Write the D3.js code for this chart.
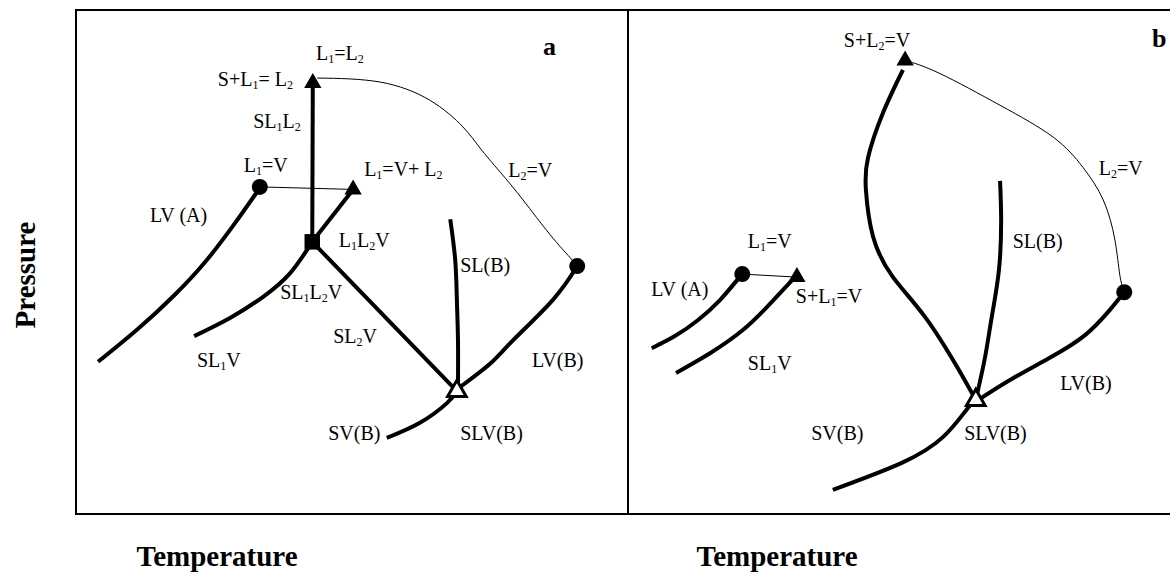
<!DOCTYPE html>
<html>
<head>
<meta charset="utf-8">
<script src="https://cdn.jsdelivr.net/npm/d3@7"></script>
<style>
  body { margin: 0; background: #fff; }
  text { font-family: "Liberation Serif", "Times New Roman", serif; fill: #000; }
</style>
</head>
<body>
<svg id="chart" width="1170" height="575"></svg>
<script>
// phase diagram, two panels, temperature / pressure in arbitrary units (0-100)

// ---- panel a ----
const aLvA = [[4.0,30.2],[11.2,36.7],[17.9,43.5],[23.7,50.4],[28.8,57.7],[32.8,63.9]];
const aSl1v = [[21.4,35.3],[27.9,38.9],[33.9,43.1],[38.8,47.8],[42.8,54.0]];
const aSl1l2 = [[42.8,54.0],[42.9,85.5]];
const aL1l2v = [[42.8,54.0],[50.2,64.4]];
const aSl2v = [[42.8,54.0],[69.0,24.4]];
const aSlB = [[67.8,58.5],[68.7,50.4],[69.0,42.5],[69.2,34.5],[69.2,25.6]];
const aLvB = [[69.6,25.2],[75.0,29.8],[79.2,34.5],[86.4,42.5],[90.8,49.2]];
const aSvB = [[56.3,15.1],[62.3,18.1],[67.2,22.0],[69.0,24.4]];
const aL2v = [[43.7,86.5],[55.1,85.7],[64.1,82.1],[70.1,76.8],[73.2,72.6],[76.8,67.9],[81.0,62.3],[85.9,55.4],[89.9,50.4],[90.8,49.2]];
const aTie = [[33.3,64.9],[50.2,64.4]];

const aDots = [[33.3,64.9],[90.8,49.2]];
const aTriangles = [[42.9,85.5],[50.2,64.4]];
const aSquares = [[42.8,54.0]];
const aOpenTriangles = [[69.0,24.4]];

const aLabels = [
  ['L_1=L_2', 43.5, 90.1],
  ['S+L_1= L_2', 25.7, 84.9],
  ['SL_1L_2', 32.1, 76.6],
  ['L_1=V', 30.4, 67.9],
  ['L_1=V+ L_2', 52.2, 67.1],
  ['L_2=V', 78.3, 66.9],
  ['LV (A)', 13.4, 57.9],
  ['L_1L_2V', 47.6, 53.0],
  ['SL(B)', 69.6, 48.0],
  ['SL_1L_2V', 37.0, 42.7],
  ['SL_2V', 46.6, 33.9],
  ['SL_1V', 21.9, 29.2],
  ['LV(B)', 82.6, 29.2],
  ['SV(B)', 45.7, 14.7],
  ['SLV(B)', 69.6, 14.7]
];

// ---- panel b ----
const bLvA = [[4.3,32.9],[8.5,35.3],[12.7,38.5],[16.7,42.5],[20.5,47.4]];
const bSl1v = [[8.7,28.0],[15.0,32.0],[20.8,36.5],[25.2,41.1],[29.9,46.6]];
const bSl2 = [[49.8,88.1],[46.2,79.6],[43.5,70.8],[43.1,64.3],[44.4,55.0],[48.0,47.0],[53.8,39.1],[59.6,29.2],[63.0,22.6]];
const bSlB = [[67.4,66.1],[67.6,58.3],[67.2,48.4],[65.9,39.1],[64.7,31.2],[63.2,23.6]];
const bLvB = [[63.4,22.6],[69.2,26.6],[76.4,31.0],[82.8,35.5],[87.3,40.5],[89.9,44.0]];
const bSvB = [[37.1,4.8],[49.5,10.1],[57.1,15.3],[61.4,20.8],[63.0,22.6]];
const bL2v = [[50.2,90.0],[56.5,87.4],[67.4,81.1],[77.0,74.8],[82.4,68.8],[86.1,62.3],[88.2,54.4],[89.1,47.4],[89.9,44.0]];
const bTie = [[20.7,47.6],[30.6,47.0]];

const bDots = [[20.7,47.6],[89.9,44.0]];
const bTriangles = [[50.2,90.0],[30.6,47.0]];
const bOpenTriangles = [[63.0,22.6]];

const bLabels = [
  ['S+L_2=V', 39.1, 92.7],
  ['L_2=V', 85.3, 67.3],
  ['SL(B)', 69.7, 52.8],
  ['L_1=V', 21.7, 52.8],
  ['LV (A)', 4.2, 43.3],
  ['S+L_1=V', 30.4, 41.9],
  ['SL_1V', 21.7, 28.6],
  ['LV(B)', 78.3, 24.6],
  ['SV(B)', 33.2, 14.7],
  ['SLV(B)', 60.9, 14.7]
];

const svg = d3.select('#chart');
const W = 1170;
const frameTop = 10, frameBottom = 514, frameLeft = 76, frameMid = 628;

const y = d3.scaleLinear().domain([0, 100]).range([frameBottom, frameTop]);
const xA = d3.scaleLinear().domain([0, 100]).range([frameLeft, frameMid]);
const xB = d3.scaleLinear().domain([0, 100]).range([frameMid, frameMid + (frameMid - frameLeft)]);

// frame
const frame = svg.append('g').attr('stroke', '#000').attr('stroke-width', 2);
frame.append('line').attr('x1', frameLeft).attr('x2', frameLeft).attr('y1', frameTop - 1).attr('y2', frameBottom + 1);
frame.append('line').attr('x1', frameMid).attr('x2', frameMid).attr('y1', frameTop).attr('y2', frameBottom);
frame.append('line').attr('x1', frameLeft).attr('x2', W).attr('y1', frameTop).attr('y2', frameTop);
frame.append('line').attr('x1', frameLeft).attr('x2', W).attr('y1', frameBottom).attr('y2', frameBottom);

function drawLabel(g, x, d) {
  const t = g.append('text')
    .attr('x', x(d[1]))
    .attr('y', y(d[2]))
    .attr('font-size', '20px');
  const parts = d[0].split(/(_\d)/).filter(s => s.length);
  let shifted = false;
  parts.forEach(function(s) {
    if (s[0] === '_') {
      t.append('tspan').attr('font-size', '12px').attr('dy', 3).text(s.slice(1));
      shifted = true;
    } else {
      t.append('tspan').attr('dy', shifted ? -3 : 0).text(s);
      shifted = false;
    }
  });
}

function drawPanel(x, curves, thin, dots, tris, squares, openTris, labels) {
  const g = svg.append('g');
  const line = d3.line().x(d => x(d[0])).y(d => y(d[1])).curve(d3.curveNatural);

  thin.forEach(function(c) {
    g.append('path').attr('d', line(c)).attr('fill', 'none')
      .attr('stroke', '#000').attr('stroke-width', 1);
  });
  curves.forEach(function(c) {
    g.append('path').attr('d', line(c)).attr('fill', 'none')
      .attr('stroke', '#000').attr('stroke-width', 4).attr('stroke-linecap', 'butt');
  });

  dots.forEach(function(d) {
    g.append('circle').attr('cx', x(d[0])).attr('cy', y(d[1])).attr('r', 8).attr('fill', '#000');
  });
  tris.forEach(function(d) {
    g.append('path').attr('d', d3.symbol(d3.symbolTriangle, 130)())
      .attr('transform', 'translate(' + x(d[0]) + ',' + y(d[1]) + ')').attr('fill', '#000');
  });
  squares.forEach(function(d) {
    g.append('path').attr('d', d3.symbol(d3.symbolSquare, 240)())
      .attr('transform', 'translate(' + x(d[0]) + ',' + y(d[1]) + ')').attr('fill', '#000');
  });
  openTris.forEach(function(d) {
    g.append('path').attr('d', d3.symbol(d3.symbolTriangle, 150)())
      .attr('transform', 'translate(' + x(d[0]) + ',' + y(d[1]) + ')')
      .attr('fill', '#fff').attr('stroke', '#000').attr('stroke-width', 3);
  });

  labels.forEach(d => drawLabel(g, x, d));
}

drawPanel(xA, [aLvA, aSl1v, aSl1l2, aL1l2v, aSl2v, aSlB, aLvB, aSvB], [aL2v, aTie],
  aDots, aTriangles, aSquares, aOpenTriangles, aLabels);
drawPanel(xB, [bLvA, bSl1v, bSl2, bSlB, bLvB, bSvB], [bL2v, bTie],
  bDots, bTriangles, [], bOpenTriangles, bLabels);

// panel letters
svg.append('text').attr('x', 543).attr('y', 55).attr('font-size', '26px').attr('font-weight', 'bold').text('a');
svg.append('text').attr('x', 1152).attr('y', 47).attr('font-size', '26px').attr('font-weight', 'bold').text('b');

// axis titles
svg.append('text').attr('transform', 'translate(35,275) rotate(-90)')
  .attr('text-anchor', 'middle').attr('font-size', '29px').attr('font-weight', 'bold').text('Pressure');
svg.append('text').attr('x', 217).attr('y', 566)
  .attr('text-anchor', 'middle').attr('font-size', '29px').attr('font-weight', 'bold').text('Temperature');
svg.append('text').attr('x', 777).attr('y', 566)
  .attr('text-anchor', 'middle').attr('font-size', '29px').attr('font-weight', 'bold').text('Temperature');
</script>
</body>
</html>
